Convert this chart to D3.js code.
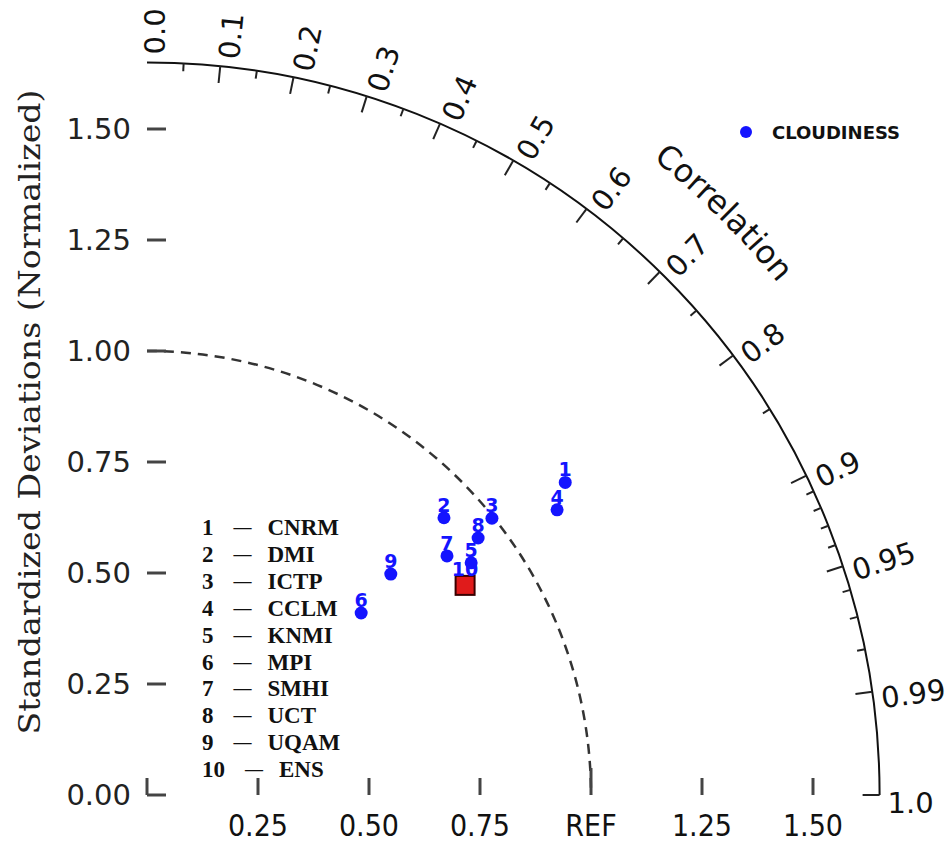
<!DOCTYPE html>
<html>
<head>
<meta charset="utf-8">
<script src="https://cdn.jsdelivr.net/npm/d3@7"></script>
<style>
  body { margin: 0; background: #fff; }
  svg { display: block; }
</style>
</head>
<body>
<svg id="chart" width="951" height="844"></svg>
<script>
// Data
var models = ["CNRM", "DMI", "ICTP", "CCLM", "KNMI", "MPI", "SMHI", "UCT", "UQAM", "ENS"];
var stdDev = [1.176, 0.915, 0.996, 1.125, 0.898, 0.633, 0.864, 0.944, 0.741, 0.858];
var correlation = [0.801, 0.731, 0.780, 0.821, 0.813, 0.762, 0.782, 0.790, 0.741, 0.835];
var variableName = "CLOUDINESS";

var sdTicks = [0, 0.25, 0.5, 0.75, 1.0, 1.25, 1.5];
var sdTickLabels = ["0.00", "0.25", "0.50", "0.75", "1.00", "1.25", "1.50"];
var xTicks = [0.25, 0.5, 0.75, 1.0, 1.25, 1.5];
var xTickLabels = ["0.25", "0.50", "0.75", "REF", "1.25", "1.50"];
var corrMajor = [0.0, 0.1, 0.2, 0.3, 0.4, 0.5, 0.6, 0.7, 0.8, 0.9, 0.95, 0.99, 1.0];
var corrLabels = ["0.0", "0.1", "0.2", "0.3", "0.4", "0.5", "0.6", "0.7", "0.8", "0.9", "0.95", "0.99", "1.0"];
var corrMinor = [0.05, 0.15, 0.25, 0.35, 0.45, 0.55, 0.65, 0.75, 0.85,
                 0.91, 0.92, 0.93, 0.94, 0.96, 0.97, 0.98];

// Geometry
var ox = 147, oy = 795;
var sdMax = 1.65;
var r = d3.scaleLinear().domain([0, sdMax]).range([0, 732.6]);

function pt(sd, c) {
  var a = Math.acos(c);
  return [ox + r(sd) * Math.cos(a), oy - r(sd) * Math.sin(a)];
}

var svg = d3.select("#chart");
var g = svg.append("g");

// outer arc (max std dev)
var outer = d3.path();
outer.arc(ox, oy, r(sdMax), -Math.PI / 2, 0);
g.append("path")
  .attr("d", outer.toString())
  .attr("fill", "none")
  .attr("stroke", "#111")
  .attr("stroke-width", 2);

// reference arc (std dev = 1)
var refArc = d3.path();
refArc.arc(ox, oy, r(1), -Math.PI / 2, 0);
g.append("path")
  .attr("d", refArc.toString())
  .attr("fill", "none")
  .attr("stroke", "#333")
  .attr("stroke-width", 2.5)
  .attr("stroke-dasharray", "10,7");

// correlation ticks (pointing inward)
function radialTick(c, len) {
  var a = Math.acos(c);
  var R = r(sdMax);
  return "M" + (ox + R * Math.cos(a)) + "," + (oy - R * Math.sin(a)) +
         "L" + (ox + (R - len) * Math.cos(a)) + "," + (oy - (R - len) * Math.sin(a));
}
g.selectAll(".cmaj")
  .data(corrMajor.filter(function(d) { return d > 0; }))
  .enter().append("path")
  .attr("class", "cmaj")
  .attr("d", function(d) { return radialTick(d, 17); })
  .attr("stroke", "#222")
  .attr("stroke-width", 2);
g.selectAll(".cmin")
  .data(corrMinor)
  .enter().append("path")
  .attr("class", "cmin")
  .attr("d", function(d) { return radialTick(d, 8); })
  .attr("stroke", "#222")
  .attr("stroke-width", 2);

// correlation labels
g.selectAll(".clab")
  .data(corrMajor)
  .enter().append("text")
  .attr("class", "clab")
  .attr("transform", function(d) {
    var a = Math.acos(d);
    var R = r(sdMax) + 8;
    return "translate(" + (ox + R * Math.cos(a)) + "," + (oy - R * Math.sin(a)) + ")" +
           " rotate(" + (-a * 180 / Math.PI) + ")";
  })
  .attr("dy", "0.62em")
  .attr("font-family", "DejaVu Sans, sans-serif")
  .attr("font-size", 29)
  .attr("fill", "#111")
  .text(function(d, i) { return corrLabels[i]; });

// "Correlation" along an arc
var titleArc = d3.path();
titleArc.arc(ox, oy, r(1.83), -Math.PI / 2, 0);
svg.append("defs").append("path")
  .attr("id", "corrPath")
  .attr("d", titleArc.toString());
g.append("text")
  .attr("font-family", "DejaVu Sans, sans-serif")
  .attr("font-size", 32)
  .attr("fill", "#111")
  .append("textPath")
  .attr("href", "#corrPath")
  .attr("startOffset", "49.7%")
  .attr("text-anchor", "middle")
  .text("Correlation");

// y axis ticks and labels
g.selectAll(".ytick")
  .data(sdTicks)
  .enter().append("line")
  .attr("class", "ytick")
  .attr("x1", ox).attr("x2", ox + 19)
  .attr("y1", function(d) { return oy - r(d); })
  .attr("y2", function(d) { return oy - r(d); })
  .attr("stroke", "#444")
  .attr("stroke-width", 3);
g.selectAll(".ylab")
  .data(sdTicks)
  .enter().append("text")
  .attr("class", "ylab")
  .attr("x", 131)
  .attr("y", function(d) { return oy - r(d); })
  .attr("dominant-baseline", "central")
  .attr("text-anchor", "end")
  .attr("font-family", "DejaVu Sans, sans-serif")
  .attr("font-size", 29)
  .attr("fill", "#222")
  .text(function(d, i) { return sdTickLabels[i]; });

// x axis ticks and labels
g.selectAll(".xtick")
  .data([0].concat(xTicks))
  .enter().append("line")
  .attr("class", "xtick")
  .attr("x1", function(d) { return ox + r(d); })
  .attr("x2", function(d) { return ox + r(d); })
  .attr("y1", oy)
  .attr("y2", function(d) { return oy - (d === 1 ? 27 : 17); })
  .attr("stroke", "#444")
  .attr("stroke-width", 3);
g.selectAll(".xlab")
  .data(xTicks)
  .enter().append("text")
  .attr("class", "xlab")
  .attr("x", function(d) { return ox + r(d); })
  .attr("y", 836)
  .attr("text-anchor", "middle")
  .attr("font-family", "DejaVu Sans Condensed, DejaVu Sans, sans-serif")
  .attr("font-stretch", "condensed")
  .attr("font-size", 30)
  .attr("fill", "#111")
  .text(function(d, i) { return xTickLabels[i]; });

// y axis title
g.append("text")
  .attr("transform", "translate(29,412) rotate(-90)")
  .attr("text-anchor", "middle")
  .attr("dominant-baseline", "central")
  .attr("font-family", "DejaVu Serif, serif")
  .attr("font-size", 30)
  .attr("textLength", 645)
  .attr("lengthAdjust", "spacingAndGlyphs")
  .attr("fill", "#222")
  .text("Standardized Deviations (Normalized)");

// model points
var points = models.map(function(m, i) {
  var p = pt(stdDev[i], correlation[i]);
  return { name: m, idx: i + 1, x: p[0], y: p[1] };
});

g.selectAll(".dot")
  .data(points)
  .enter().append("circle")
  .attr("class", "dot")
  .attr("cx", function(d) { return d.x; })
  .attr("cy", function(d) { return d.y; })
  .attr("r", 6.5)
  .attr("fill", "#1414ff");

// ensemble marker
var ens = points[points.length - 1];
g.append("rect")
  .attr("x", ens.x - 9.5)
  .attr("y", ens.y - 9.5)
  .attr("width", 19)
  .attr("height", 19)
  .attr("fill", "#e01b1b")
  .attr("stroke", "#3a0000")
  .attr("stroke-width", 2);

g.selectAll(".plab")
  .data(points)
  .enter().append("text")
  .attr("class", "plab")
  .attr("x", function(d) { return d.x; })
  .attr("y", function(d) { return d.y - (d.idx === 10 ? 9 : 6); })
  .attr("text-anchor", "middle")
  .attr("font-family", "DejaVu Sans, sans-serif")
  .attr("font-weight", "bold")
  .attr("font-size", 19)
  .attr("fill", "#1414ff")
  .text(function(d) { return d.idx; });

// model list
var list = g.selectAll(".mlist")
  .data(points)
  .enter().append("text")
  .attr("class", "mlist")
  .attr("x", 202)
  .attr("y", function(d, i) { return 527 + i * 26.9; })
  .attr("dominant-baseline", "central")
  .attr("font-family", "Liberation Serif, Times New Roman, serif")
  .attr("font-weight", "bold")
  .attr("font-size", 23)
  .attr("fill", "#111");
list.append("tspan").text(function(d) { return d.idx; });
list.append("tspan").attr("dx", 20).attr("font-size", 18).text("\u2014");
list.append("tspan").attr("dx", 16).text(function(d) { return d.name; });

// legend
g.append("circle")
  .attr("cx", 746).attr("cy", 132).attr("r", 6)
  .attr("fill", "#1414ff");
g.append("text")
  .attr("x", 772).attr("y", 133)
  .attr("dominant-baseline", "central")
  .attr("font-family", "DejaVu Sans Condensed, DejaVu Sans, sans-serif")
  .attr("font-stretch", "condensed")
  .attr("font-weight", "bold")
  .attr("font-size", 17)
  .attr("textLength", 128)
  .attr("lengthAdjust", "spacingAndGlyphs")
  .attr("fill", "#111")
  .text(variableName);
</script>
</body>
</html>
